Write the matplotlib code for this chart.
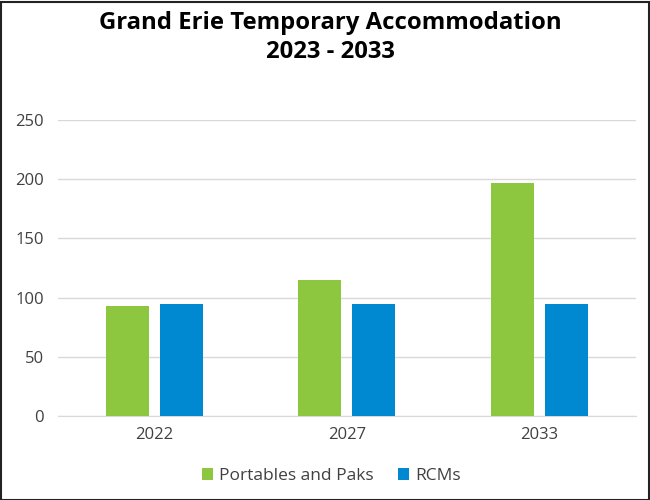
import matplotlib.pyplot as plt
import matplotlib.patches as mpatches
import numpy as np

years = ["2022", "2027", "2033"]
portables = [93, 115, 197]
rcms = [95, 95, 95]
series_names = ["Portables and Paks", "RCMs"]

plt.rcParams['font.family'] = ['Open Sans', 'DejaVu Sans']

fig = plt.figure(figsize=(6.5, 5), dpi=100)
ax = fig.add_axes([0.089, 0.168, 0.889, 0.592])

x = np.arange(len(years))
w = 0.224
ax.bar(x - 0.14, portables, w, color='#8DC63F', label=series_names[0], zorder=3)
ax.bar(x + 0.14, rcms, w, color='#0088D1', label=series_names[1], zorder=3)

ax.set_xlim(-0.5, 2.5)
ax.set_ylim(0, 250)
ax.set_yticks(range(0, 251, 50))
ax.set_xticks(x)
ax.set_xticklabels(years)
ax.grid(axis='y', color='#D9D9D9', linewidth=1, zorder=0)
for s in ['top', 'right', 'left']:
    ax.spines[s].set_visible(False)
ax.spines['bottom'].set_color('#D9D9D9')
ax.tick_params(axis='both', length=0, labelsize=12, colors='#404040')
ax.tick_params(axis='x', pad=8)
ax.tick_params(axis='y', pad=10)

fig.text(0.508, 0.978, "Grand Erie Temporary Accommodation\n2023 - 2033",
         ha='center', va='top', fontsize=17.2, fontweight='bold',
         linespacing=1.25, color='black')

ax.legend(loc='center', bbox_to_anchor=(0.51, 0.048), bbox_transform=fig.transFigure,
          ncol=2, frameon=False, fontsize=12.5, handlelength=0.65, handleheight=0.65,
          handletextpad=0.35, columnspacing=1.4, labelcolor='#404040')

fig.patches.append(mpatches.Rectangle((0.001, 0.001), 0.997, 0.995, transform=fig.transFigure,
                                      fill=False, edgecolor='#222222', linewidth=1.5))

fig.savefig("out.png", dpi=100)
